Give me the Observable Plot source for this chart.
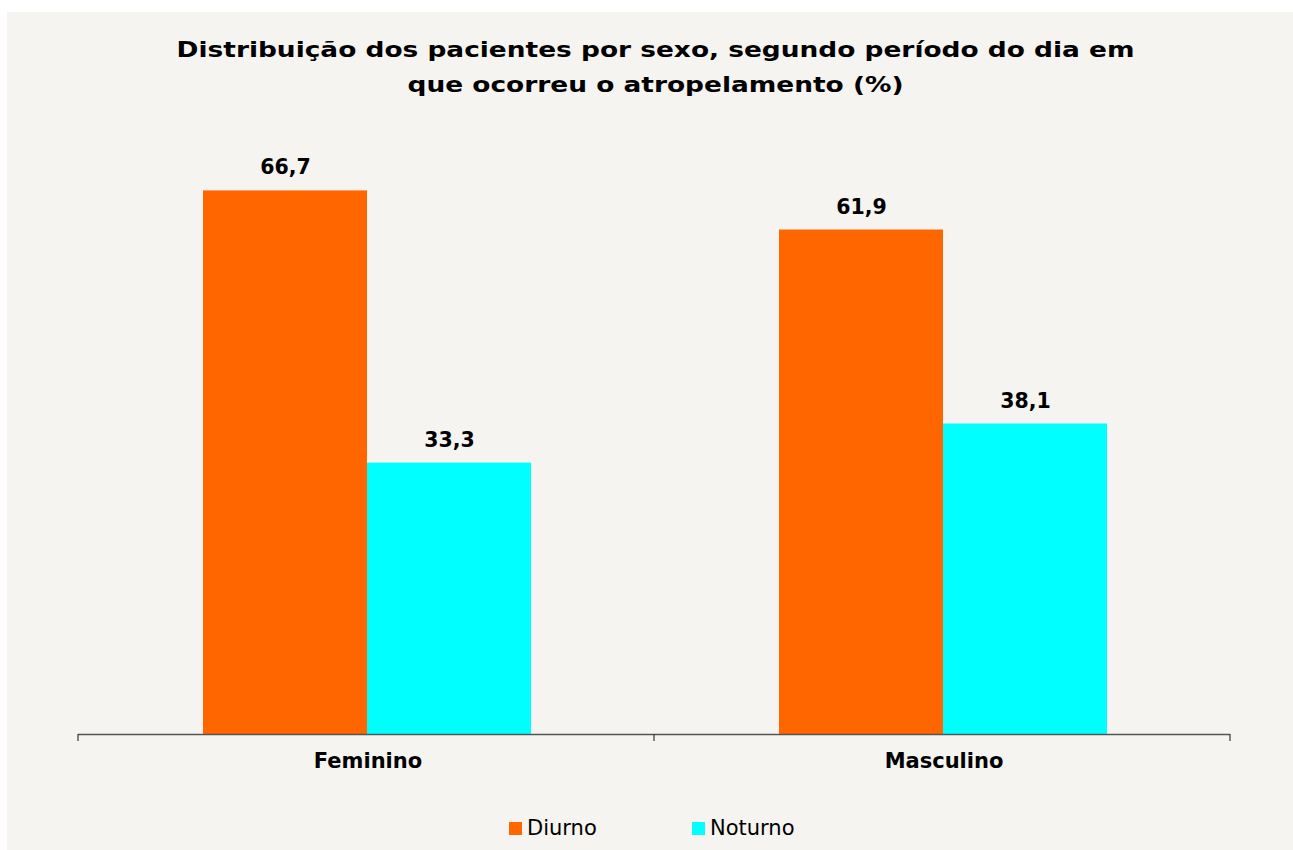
<!DOCTYPE html>
<html>
<head>
<meta charset="utf-8">
<script src="https://cdn.jsdelivr.net/npm/d3@7"></script>
<script src="https://cdn.jsdelivr.net/npm/@observablehq/plot@0.6"></script>
<style>
  html, body { margin: 0; padding: 0; background: #ffffff; width: 1293px; height: 850px; overflow: hidden; }
  #bg { position: absolute; left: 7px; top: 12px; width: 1286px; height: 838px; background: #f5f4f0; }
  #title { position: absolute; left: 0; top: 32px; width: 1311px; text-align: center;
    font-family: "DejaVu Sans", Verdana, sans-serif; font-weight: bold; font-size: 22px; line-height: 35px; color: #000;
    transform: scaleX(1.2); transform-origin: 655.5px 0; }
  #chart { position: absolute; left: 0; top: 0; }
  #legend { position: absolute; top: 816px; left: 0; width: 1293px; font-family: "DejaVu Sans", Verdana, sans-serif; font-size: 21px; color: #000; }
  .item { position: absolute; display: flex; align-items: center; height: 24px; }
  .sw { width: 13px; height: 13px; margin-right: 5px; }
</style>
</head>
<body>
<div id="bg"></div>
<div id="title">Distribuição dos pacientes por sexo, segundo período do dia em<br>que ocorreu o atropelamento (%)</div>
<div id="chart"></div>
<div id="legend"></div>
<script>
const categories = ["Feminino", "Masculino"];
const series = ["Diurno", "Noturno"];
const diurno = [66.7, 61.9];
const noturno = [33.3, 38.1];
const colors = ["#ff6600", "#00ffff"];

const data = [];
categories.forEach((c, i) => {
  data.push({cat: c, serie: "Diurno", value: diurno[i]});
  data.push({cat: c, serie: "Noturno", value: noturno[i]});
});
const fmt = v => v.toFixed(1).replace(".", ",");

const plot = Plot.plot({
  width: 1293,
  height: 850,
  marginLeft: 78,
  marginRight: 63,
  marginTop: 82,
  marginBottom: 116,
  style: {background: "transparent", fontFamily: "'DejaVu Sans', Verdana, sans-serif"},
  fx: {domain: categories, padding: 0, axis: null},
  x: {domain: series, paddingInner: 0, paddingOuter: 0.755, axis: null},
  y: {domain: [0, 80], axis: null},
  color: {domain: series, range: colors},
  marks: [
    Plot.barY(data, {fx: "cat", x: "serie", y: "value", fill: "serie", dx: 1}),
    Plot.text(data, {fx: "cat", x: "serie", y: "value", text: d => fmt(d.value), dy: -23, dx: 1,
      fontWeight: "bold", fontSize: 20.5, fill: "#000"}),
    Plot.ruleY([0], {stroke: "#555", strokeWidth: 1.5})
  ]
});
document.getElementById("chart").appendChild(plot);

// axis ticks and category labels, positioned with the plot's own scales
const svg = d3.select(plot);
const fxScale = plot.scale("fx");
const yScale = plot.scale("y");
const y0 = yScale.apply(0);
const step = fxScale.bandwidth;
const left = fxScale.apply(categories[0]);
const ticksX = categories.map((c) => fxScale.apply(c));
ticksX.push(left + categories.length * step);
svg.selectAll("line.tk").data(ticksX).join("line")
  .attr("class", "tk")
  .attr("x1", d => d).attr("x2", d => d)
  .attr("y1", y0).attr("y2", y0 + 7)
  .attr("stroke", "#333").attr("stroke-width", 1.2);
svg.selectAll("text.cl").data(categories).join("text")
  .attr("class", "cl")
  .attr("x", d => fxScale.apply(d) + step / 2 + 2)
  .attr("y", y0 + 34)
  .attr("text-anchor", "middle")
  .attr("font-family", "'DejaVu Sans', Verdana, sans-serif")
  .attr("font-weight", "bold").attr("font-size", 21)
  .text(d => d);

const legend = document.getElementById("legend");
const legendX = [509, 692];
series.forEach((s, i) => {
  const it = document.createElement("div");
  it.className = "item";
  it.style.left = legendX[i] + "px";
  const sw = document.createElement("div");
  sw.className = "sw";
  sw.style.background = colors[i];
  const t = document.createElement("span");
  t.textContent = s;
  it.appendChild(sw); it.appendChild(t);
  legend.appendChild(it);
});
</script>
</body>
</html>
